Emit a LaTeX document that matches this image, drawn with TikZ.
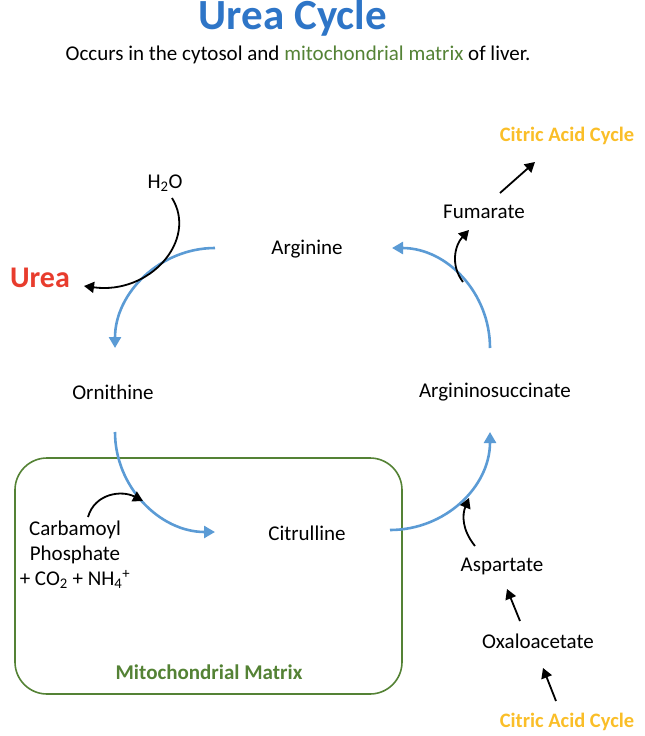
\documentclass[tikz,border=0pt]{standalone}
\usepackage{fontspec}
\setmainfont{Carlito}
\usetikzlibrary{arrows.meta}
\definecolor{tblue}{RGB}{46,117,199}
\definecolor{cblue}{RGB}{91,155,213}
\definecolor{ured}{RGB}{232,60,45}
\definecolor{mgreen}{RGB}{84,130,53}
\definecolor{corange}{RGB}{250,190,40}
\begin{document}
\begin{tikzpicture}[x=1pt,y=-1pt,
  lbl/.style={font=\fontsize{21}{25}\selectfont, align=center},
  cyc/.style={draw=cblue, line width=2.6pt, -{Triangle[length=11pt,width=12pt]}},
  blk/.style={draw=black, line width=1.8pt, -{Triangle[length=10pt,width=11pt]}},
  cac/.style={font=\fontsize{20.5}{24}\selectfont\bfseries, text=corange}]
\useasboundingbox (0,0) rectangle (645,736);
\node[font=\fontsize{43}{46}\selectfont\bfseries, text=tblue] (title) at (293,18) {Urea Cycle};
\node[lbl] (sub) at (298,55) {Occurs in the cytosol and \textcolor{mgreen}{mitochondrial matrix} of liver.};
\draw[mgreen, line width=1.6pt, rounded corners=32pt] (15,458) rectangle (402,694);
\node[font=\fontsize{21}{24}\selectfont\bfseries, text=mgreen] (mm) at (209,672) {Mitochondrial Matrix};
\node[lbl] (arg) at (307,249) {Arginine};
\node[lbl] (orn) at (113,392) {Ornithine};
\node[lbl] (as) at (495,392) {Argininosuccinate};
\node[lbl] (cit) at (307,533) {Citrulline};
\node[lbl] (fum) at (484,212) {Fumarate};
\node[cac] (cac1) at (567,136) {Citric Acid Cycle};
\node[lbl] (asp) at (502,566) {Aspartate};
\node[lbl] (oxa) at (538,641) {Oxaloacetate};
\node[cac] (cac2) at (567,722) {Citric Acid Cycle};
\node[lbl] (h2o) at (165,183) {H\textsubscript{2}O};
\node[font=\fontsize{30}{32}\selectfont\bfseries, text=ured] (urea) at (40,278) {Urea};
\node[lbl] (carb) at (75,555) {Carbamoyl\\Phosphate\\+ CO\textsubscript{2} + NH\textsubscript{4}\textsuperscript{+}};
\coordinate (a1) at (215,248); \coordinate (a2) at (115,348);
\coordinate (b1) at (115,432); \coordinate (b2) at (215,532);
\coordinate (c1) at (390,530); \coordinate (c2) at (490,432);
\coordinate (d1) at (490,348); \coordinate (d2) at (392,248);
\draw[cyc] (a1) .. controls (160,248) and (115,293) .. (a2);
\draw[cyc] (b1) .. controls (115,487) and (160,532) .. (b2);
\draw[cyc] (c1) .. controls (445,530) and (490,487) .. (c2);
\draw[cyc] (d1) .. controls (490,293) and (447,248) .. (d2);
\coordinate (h0) at (172,198); \coordinate (u0) at (84,286);
\draw[blk] (h0) .. controls (198,240) and (150,295) .. (u0);
\coordinate (k0) at (88,517); \coordinate (k1) at (143,501);
\draw[blk] (k0) .. controls (95,493) and (122,490) .. (k1);
\coordinate (f0) at (463,282); \coordinate (f1) at (469,230);
\draw[blk] (f0) .. controls (450,265) and (455,245) .. (f1);
\coordinate (g0) at (500,193); \coordinate (g1) at (535,162);
\draw[blk] (g0) -- (g1);
\coordinate (s0) at (475,546); \coordinate (s1) at (469,498);
\draw[blk] (s0) .. controls (462,530) and (462,515) .. (s1);
\coordinate (o0) at (520,621); \coordinate (o1) at (507,589);
\draw[blk] (o0) -- (o1);
\coordinate (p0) at (556,701); \coordinate (p1) at (543,668);
\draw[blk] (p0) -- (p1);
\end{tikzpicture}
\end{document}
